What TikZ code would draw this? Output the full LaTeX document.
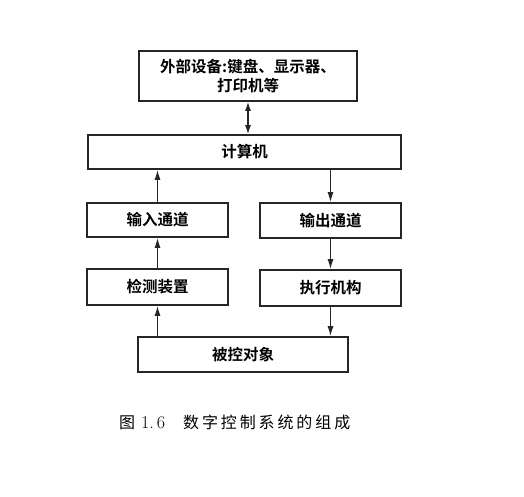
\documentclass[tikz,border=0pt]{standalone}
\usepackage{fontspec}
\usetikzlibrary{arrows.meta}
\newfontfamily\cjk{Noto Sans CJK SC}[BoldFont={Noto Sans CJK SC Bold}]
\newfontfamily\cjkcap{Noto Sans CJK SC}[LetterSpace=18]
\begin{document}
\begin{tikzpicture}[x=1pt,y=-1pt,
  box/.style={draw=black!85, line width=1.6pt, rectangle, inner sep=0pt, align=center,
    font=\cjk\bfseries\fontsize{15.5}{19.5}\selectfont},
  arr/.style={draw=black!85, line width=1.3pt, -{Latex[length=10pt,width=6pt]}},
  darr/.style={draw=black!85, line width=1.3pt, {Latex[length=9pt,width=6pt]}-{Latex[length=9pt,width=6pt]}}]
\useasboundingbox[fill=white] (0,0) rectangle (524,497);
\node[box, minimum width=218pt, minimum height=50pt] (ext) at (248,76) {外部设备:键盘、显示器、\\打印机等};
\node[box, minimum width=313pt, minimum height=34pt] (comp) at (244.5,152) {计算机};
\node[box, minimum width=141pt, minimum height=34pt] (in) at (157.5,220) {输入通道};
\node[box, minimum width=141pt, minimum height=35pt] (out) at (330.5,220.5) {输出通道};
\node[box, minimum width=141pt, minimum height=36pt] (det) at (157.5,287) {检测装置};
\node[box, minimum width=141pt, minimum height=36pt] (exe) at (330.5,288) {执行机构};
\node[box, minimum width=210pt, minimum height=35pt] (obj) at (243,354.5) {被控对象};
\draw[darr] (ext.south) -- (ext.south |- comp.north);
\draw[arr] (in.north) -- (in.north |- comp.south);
\draw[arr] (out.north |- comp.south) -- (out.north);
\draw[arr] (det.north) -- (in.south);
\draw[arr] (out.south) -- (exe.north);
\draw[arr] (det.south |- obj.north) -- (det.south);
\draw[arr] (exe.south) -- (exe.south |- obj.north);
\node[anchor=west, inner sep=0pt, font=\fontsize{16}{19}\selectfont] (cap) at (119,422)
  {{\cjk 图}\hspace{6pt}{\fontsize{18}{19}\selectfont 1.\hspace{3pt}6}\hspace{18pt}{\cjkcap 数字控制系统的组成}};
\end{tikzpicture}
\end{document}
